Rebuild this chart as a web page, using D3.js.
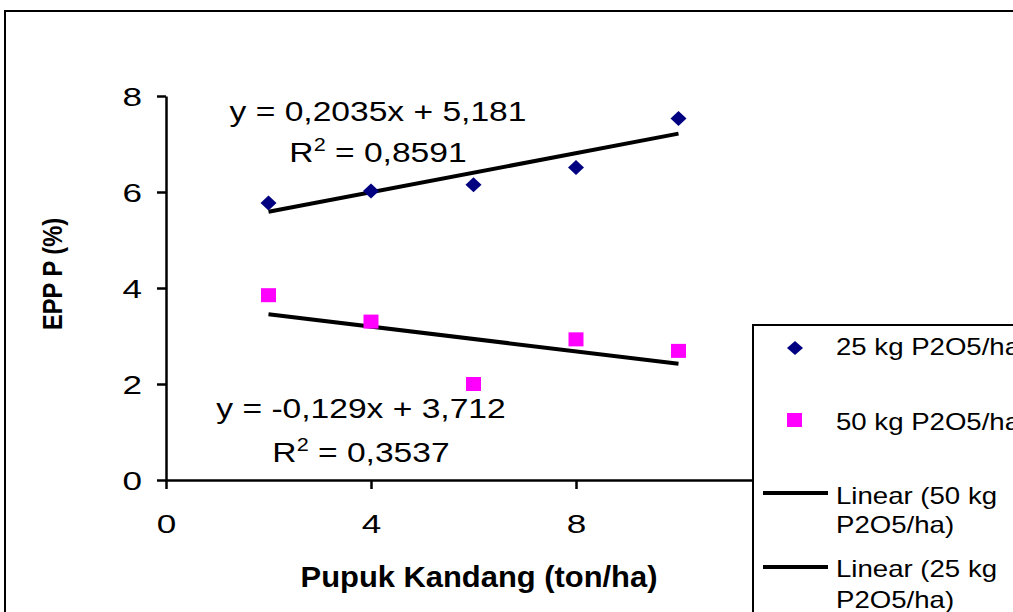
<!DOCTYPE html>
<html>
<head>
<meta charset="utf-8">
<script src="https://cdn.jsdelivr.net/npm/d3@7"></script>
<style>
  body { margin: 0; background: #fff; }
  text { font-family: "Liberation Sans", Arial, sans-serif; fill: black; }
</style>
</head>
<body>
<div class="chart"></div>
<script>
//Width and height
var w = 1013;
var h = 612;

//Data
var doses = [2, 4, 6, 8, 10];
var epp25 = [5.77, 6.02, 6.15, 6.51, 7.53];
var epp50 = [3.85, 3.30, 2.00, 2.93, 2.69];
var xTicks = [0, 4, 8, 12];
var yTicks = [0, 2, 4, 6, 8];

//Trendline coefficients shown on the chart
var fit25 = { slope: 0.2035, intercept: 5.181, eq: "y = 0,2035x + 5,181", r2: "0,8591" };
var fit50 = { slope: -0.129, intercept: 3.712, eq: "y = -0,129x + 3,712", r2: "0,3537" };

var legendNames = ["25 kg P2O5/ha", "50 kg P2O5/ha", "Linear (50 kg", "P2O5/ha)", "Linear (25 kg", "P2O5/ha)"];

var x = d3.scaleLinear().domain([0, 12]).range([166, 781]);
var y = d3.scaleLinear().domain([0, 8]).range([480, 96]);

var svg = d3.select(".chart")
            .append("svg")
            .attr("width", w)
            .attr("height", h);

//Text is stretched sideways in the original, so place it in a scaled group
function label(px, py, sx, anchor, size, weight) {
  return svg.append("g")
            .attr("transform", "translate(" + px + "," + py + ") scale(" + sx + ",1)")
            .append("text")
            .attr("text-anchor", anchor)
            .style("font-size", size + "px")
            .style("font-weight", weight || "normal");
}

//Outer chart border (runs off the right and bottom)
svg.append("rect")
   .attr("x", 5).attr("y", 11)
   .attr("width", w + 20).attr("height", h + 20)
   .style("fill", "white")
   .style("stroke", "black")
   .style("stroke-width", 2);

//Axes
var xAxis = d3.axisBottom(x).tickValues(xTicks).tickSize(9).tickSizeOuter(0);
var yAxis = d3.axisLeft(y).tickValues(yTicks).tickSize(9).tickSizeOuter(0);

var gx = svg.append("g").attr("transform", "translate(0," + y(0) + ")").call(xAxis);
var gy = svg.append("g").attr("transform", "translate(" + x(0) + ",0)").call(yAxis);

[gx, gy].forEach(function(g) {
  g.select(".domain").style("stroke", "black").style("stroke-width", 2.5);
  g.selectAll(".tick line").style("stroke", "black").style("stroke-width", 2.5);
  g.selectAll(".tick text")
   .style("font-family", "Liberation Sans, Arial, sans-serif")
   .style("font-size", "26px")
   .style("fill", "black");
});
gx.selectAll(".tick text")
  .attr("y", 0).attr("dy", 0)
  .attr("transform", "translate(0,53) scale(1.35,1)");
gy.selectAll(".tick text")
  .attr("x", 0).attr("dy", "0.35em")
  .attr("transform", "translate(-24,0) scale(1.35,1)");

//Axis titles
label(479, 587, 1.03, "middle", 30, "bold").text("Pupuk Kandang (ton/ha)");

svg.append("text")
   .attr("transform", "translate(62,274) rotate(-90)")
   .attr("text-anchor", "middle")
   .attr("textLength", 112)
   .attr("lengthAdjust", "spacingAndGlyphs")
   .style("font-size", "27px").style("font-weight", "bold")
   .text("EPP P (%)");

//Trendlines
var line = d3.line()
             .x(function(d) { return x(d[0]); })
             .y(function(d) { return y(d[1]); });

[fit25, fit50].forEach(function(f) {
  var pts = [doses[0], doses[doses.length - 1]].map(function(d) {
    return [d, f.intercept + f.slope * d];
  });
  svg.append("path")
     .attr("d", line(pts))
     .style("fill", "none")
     .style("stroke", "black")
     .style("stroke-width", 4);
});

//25 kg series: navy diamonds
svg.selectAll(".d25")
   .data(doses)
   .enter()
   .append("path")
   .attr("class", "d25")
   .attr("transform", function(d, i) { return "translate(" + x(d) + "," + y(epp25[i]) + ")"; })
   .attr("d", "M0,-7.5L8,0L0,7.5L-8,0Z")
   .style("fill", "#000080");

//50 kg series: magenta squares
svg.selectAll(".s50")
   .data(doses)
   .enter()
   .append("rect")
   .attr("class", "s50")
   .attr("x", function(d) { return x(d) - 7.5; })
   .attr("y", function(d, i) { return y(epp50[i]) - 7; })
   .attr("width", 15).attr("height", 14)
   .style("fill", "#FF00FF");

//Equation labels
function eqLabel(f, cx, yEq, yR) {
  label(cx, yEq, 1.2, "middle", 28).text(f.eq);
  var t = label(cx, yR, 1.2, "middle", 28);
  t.append("tspan").text("R");
  t.append("tspan").attr("dy", -11).style("font-size", "18px").text("2");
  t.append("tspan").attr("dy", 11).text(" = " + f.r2);
}
eqLabel(fit25, 378, 121, 162);
eqLabel(fit50, 361, 418, 462);

//Legend box (runs off the right and bottom)
svg.append("rect")
   .attr("x", 753).attr("y", 325)
   .attr("width", 300).attr("height", 320)
   .style("fill", "white")
   .style("stroke", "black")
   .style("stroke-width", 2);

svg.append("path")
   .attr("transform", "translate(795,348)")
   .attr("d", "M0,-7L8,0L0,7L-8,0Z")
   .style("fill", "#000080");
svg.append("rect")
   .attr("x", 787).attr("y", 413).attr("width", 15).attr("height", 14)
   .style("fill", "#FF00FF");
[493, 567].forEach(function(ly) {
  svg.append("line")
     .attr("x1", 763).attr("x2", 828).attr("y1", ly).attr("y2", ly)
     .style("stroke", "black").style("stroke-width", 4);
});

var legendY = [355, 430, 504, 533, 577, 608];
legendNames.forEach(function(name, i) {
  label(836, legendY[i], 1.2, "start", 23).text(name);
});
</script>
</body>
</html>
